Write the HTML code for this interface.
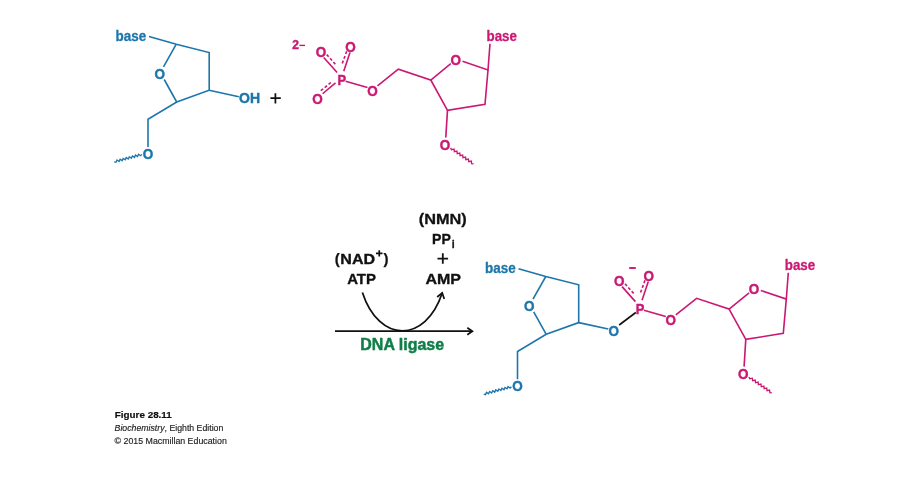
<!DOCTYPE html>
<html><head><meta charset="utf-8"><style>
html,body{margin:0;padding:0;background:#fff;}
svg{display:block;will-change:transform;font-family:"Liberation Sans",sans-serif;}
</style></head><body>
<svg width="916" height="480" viewBox="0 0 916 480">
<rect width="916" height="480" fill="#fff"/>
<g stroke="#1d76aa" stroke-width="1.6" fill="none" stroke-linejoin="miter">
<path d="M149,36.5 L176.3,44.2 L209.2,52.5 L209.2,90.3 L176.7,102 L148,119.2 L148,147"/>
<path d="M176.3,44.2 L163.5,66.8"/>
<path d="M164.2,79.5 L176.7,102"/>
<path d="M209.2,90.3 L238.8,96.7"/>
<path d="M114.20,161.80 L115.98,162.31 L117.03,160.06 L119.06,161.48 L120.11,159.24 L122.14,160.66 L123.19,158.42 L125.22,159.84 L126.27,157.59 L128.30,159.02 L129.34,156.77 L131.37,158.20 L132.42,155.95 L134.45,157.37 L135.50,155.13 L137.53,156.55 L138.58,154.30 L140.61,155.73 L141.90,154.40" stroke-width="1.35"/>
</g>
<text x="115.6" y="40.6" font-size="14" fill="#1d76aa" text-anchor="start" font-weight="bold" font-style="normal" textLength="30.6" lengthAdjust="spacingAndGlyphs" stroke="#1d76aa" stroke-width="0.3" stroke-linejoin="round">base</text>
<g transform="translate(159.7,73.7) scale(0.9,1)"><text x="0" y="5.47" font-size="15" fill="#1d76aa" text-anchor="middle" font-weight="bold" font-style="normal" stroke="#1d76aa" stroke-width="0.45" stroke-linejoin="round">O</text></g>
<g transform="translate(148,153.7) scale(0.9,1)"><text x="0" y="5.47" font-size="15" fill="#1d76aa" text-anchor="middle" font-weight="bold" font-style="normal" stroke="#1d76aa" stroke-width="0.45" stroke-linejoin="round">O</text></g>
<text x="239.0" y="103.3" font-size="14" fill="#1d76aa" text-anchor="start" font-weight="bold" font-style="normal" textLength="21" lengthAdjust="spacingAndGlyphs" stroke="#1d76aa" stroke-width="0.45" stroke-linejoin="round">OH</text>
<g stroke="#ca1873" stroke-width="1.6" fill="none">
<path d="M323.75,57.5 L337.1,72.5"/>
<path d="M326.7,54.6 L336.7,65.8" stroke-dasharray="3,2" stroke-width="1.6"/>
<path d="M350,52.5 L343.75,71.25"/>
<path d="M346.7,51.25 L341.7,65" stroke-dasharray="3,2" stroke-width="1.6"/>
<path d="M335.5,82.9 L322.6,93.75"/>
<path d="M330.9,82.5 L320.1,91.25" stroke-dasharray="3,2" stroke-width="1.6"/>
<path d="M345.6,81.25 L367.5,87.5"/>
<path d="M377.5,85.8 L398.3,69.2 L430.8,80 L450.8,63.7"/>
<path d="M462.5,61.3 L488,70 L490,43.7"/>
<path d="M488,70 L485,104.2 L447.5,110.3 L430.8,80"/>
<path d="M447.5,110.3 L445.8,137.5"/>
<path d="M450.60,147.90 L451.50,149.68 L454.02,149.11 L454.37,151.66 L456.89,151.09 L457.25,153.65 L459.77,153.08 L460.12,155.64 L462.64,155.07 L463.00,157.63 L465.52,157.06 L465.87,159.61 L468.39,159.04 L468.75,161.60 L471.27,161.03 L471.62,163.59 L473.60,163.80" stroke-width="1.35"/>
</g>
<g transform="translate(321,51.7) scale(0.9,1)"><text x="0" y="5.47" font-size="15" fill="#ca1873" text-anchor="middle" font-weight="bold" font-style="normal" stroke="#ca1873" stroke-width="0.45" stroke-linejoin="round">O</text></g>
<g transform="translate(350.5,46.3) scale(0.9,1)"><text x="0" y="5.47" font-size="15" fill="#ca1873" text-anchor="middle" font-weight="bold" font-style="normal" stroke="#ca1873" stroke-width="0.45" stroke-linejoin="round">O</text></g>
<g transform="translate(372.5,90.8) scale(0.9,1)"><text x="0" y="5.47" font-size="15" fill="#ca1873" text-anchor="middle" font-weight="bold" font-style="normal" stroke="#ca1873" stroke-width="0.45" stroke-linejoin="round">O</text></g>
<g transform="translate(455.8,59.5) scale(0.9,1)"><text x="0" y="5.47" font-size="15" fill="#ca1873" text-anchor="middle" font-weight="bold" font-style="normal" stroke="#ca1873" stroke-width="0.45" stroke-linejoin="round">O</text></g>
<g transform="translate(445,144.7) scale(0.9,1)"><text x="0" y="5.47" font-size="15" fill="#ca1873" text-anchor="middle" font-weight="bold" font-style="normal" stroke="#ca1873" stroke-width="0.45" stroke-linejoin="round">O</text></g>
<g transform="translate(341.7,84.9) scale(0.92,1)"><text x="0" y="0" font-size="14" fill="#ca1873" text-anchor="middle" font-weight="bold" font-style="normal" stroke="#ca1873" stroke-width="0.45" stroke-linejoin="round">P</text></g>
<text x="486.5" y="40.8" font-size="14" fill="#ca1873" text-anchor="start" font-weight="bold" font-style="normal" textLength="30.4" lengthAdjust="spacingAndGlyphs" stroke="#ca1873" stroke-width="0.3" stroke-linejoin="round">base</text>
<g transform="translate(317.4,98.5) scale(0.9,1)"><text x="0" y="5.47" font-size="15" fill="#ca1873" text-anchor="middle" font-weight="bold" font-style="normal" stroke="#ca1873" stroke-width="0.45" stroke-linejoin="round">O</text></g>
<text x="292.2" y="48.6" font-size="12" fill="#ca1873" text-anchor="start" font-weight="bold" font-style="normal" stroke="#ca1873" stroke-width="0.45" stroke-linejoin="round">2</text>
<path d="M299.4,45.4 H305" stroke="#ca1873" stroke-width="1.4"/>
<path d="M270.4,98.2 H280.8 M275.4,93.3 V103.6" stroke="#111111" stroke-width="1.75"/>
<g transform="translate(369.5,232.3)"><g stroke="#1d76aa" stroke-width="1.6" fill="none" stroke-linejoin="miter">
<path d="M149,36.5 L176.3,44.2 L209.2,52.5 L209.2,90.3 L176.7,102 L148,119.2 L148,147"/>
<path d="M176.3,44.2 L163.5,66.8"/>
<path d="M164.2,79.5 L176.7,102"/>
<path d="M209.2,90.3 L238.8,96.7"/>
<path d="M114.20,161.80 L115.98,162.31 L117.03,160.06 L119.06,161.48 L120.11,159.24 L122.14,160.66 L123.19,158.42 L125.22,159.84 L126.27,157.59 L128.30,159.02 L129.34,156.77 L131.37,158.20 L132.42,155.95 L134.45,157.37 L135.50,155.13 L137.53,156.55 L138.58,154.30 L140.61,155.73 L141.90,154.40" stroke-width="1.35"/>
</g>
<text x="115.6" y="40.6" font-size="14" fill="#1d76aa" text-anchor="start" font-weight="bold" font-style="normal" textLength="30.6" lengthAdjust="spacingAndGlyphs" stroke="#1d76aa" stroke-width="0.3" stroke-linejoin="round">base</text>
<g transform="translate(159.7,73.7) scale(0.9,1)"><text x="0" y="5.47" font-size="15" fill="#1d76aa" text-anchor="middle" font-weight="bold" font-style="normal" stroke="#1d76aa" stroke-width="0.45" stroke-linejoin="round">O</text></g>
<g transform="translate(148,153.7) scale(0.9,1)"><text x="0" y="5.47" font-size="15" fill="#1d76aa" text-anchor="middle" font-weight="bold" font-style="normal" stroke="#1d76aa" stroke-width="0.45" stroke-linejoin="round">O</text></g>
<g transform="translate(244.2,98.5) scale(0.9,1)"><text x="0" y="5.47" font-size="15" fill="#1d76aa" text-anchor="middle" font-weight="bold" font-style="normal" stroke="#1d76aa" stroke-width="0.45" stroke-linejoin="round">O</text></g></g>
<g transform="translate(298.3,229.1)"><g stroke="#ca1873" stroke-width="1.6" fill="none">
<path d="M323.75,57.5 L337.1,72.5"/>
<path d="M326.7,54.6 L336.7,65.8" stroke-dasharray="3,2" stroke-width="1.6"/>
<path d="M350,52.5 L343.75,71.25"/>
<path d="M346.7,51.25 L341.7,65" stroke-dasharray="3,2" stroke-width="1.6"/>
<path d="M345.6,81.25 L367.5,87.5"/>
<path d="M377.5,85.8 L398.3,69.2 L430.8,80 L450.8,63.7"/>
<path d="M462.5,61.3 L488,70 L490,43.7"/>
<path d="M488,70 L485,104.2 L447.5,110.3 L430.8,80"/>
<path d="M447.5,110.3 L445.8,137.5"/>
<path d="M450.60,147.90 L451.50,149.68 L454.02,149.11 L454.37,151.66 L456.89,151.09 L457.25,153.65 L459.77,153.08 L460.12,155.64 L462.64,155.07 L463.00,157.63 L465.52,157.06 L465.87,159.61 L468.39,159.04 L468.75,161.60 L471.27,161.03 L471.62,163.59 L473.60,163.80" stroke-width="1.35"/>
</g>
<g transform="translate(321,51.7) scale(0.9,1)"><text x="0" y="5.47" font-size="15" fill="#ca1873" text-anchor="middle" font-weight="bold" font-style="normal" stroke="#ca1873" stroke-width="0.45" stroke-linejoin="round">O</text></g>
<g transform="translate(350.5,46.3) scale(0.9,1)"><text x="0" y="5.47" font-size="15" fill="#ca1873" text-anchor="middle" font-weight="bold" font-style="normal" stroke="#ca1873" stroke-width="0.45" stroke-linejoin="round">O</text></g>
<g transform="translate(372.5,90.8) scale(0.9,1)"><text x="0" y="5.47" font-size="15" fill="#ca1873" text-anchor="middle" font-weight="bold" font-style="normal" stroke="#ca1873" stroke-width="0.45" stroke-linejoin="round">O</text></g>
<g transform="translate(455.8,59.5) scale(0.9,1)"><text x="0" y="5.47" font-size="15" fill="#ca1873" text-anchor="middle" font-weight="bold" font-style="normal" stroke="#ca1873" stroke-width="0.45" stroke-linejoin="round">O</text></g>
<g transform="translate(445,144.7) scale(0.9,1)"><text x="0" y="5.47" font-size="15" fill="#ca1873" text-anchor="middle" font-weight="bold" font-style="normal" stroke="#ca1873" stroke-width="0.45" stroke-linejoin="round">O</text></g>
<g transform="translate(341.7,84.9) scale(0.92,1)"><text x="0" y="0" font-size="14" fill="#ca1873" text-anchor="middle" font-weight="bold" font-style="normal" stroke="#ca1873" stroke-width="0.45" stroke-linejoin="round">P</text></g>
<text x="486.5" y="40.8" font-size="14" fill="#ca1873" text-anchor="start" font-weight="bold" font-style="normal" textLength="30.4" lengthAdjust="spacingAndGlyphs" stroke="#ca1873" stroke-width="0.3" stroke-linejoin="round">base</text></g>
<path d="M619.2,325 L635.8,312.5" stroke="#111111" stroke-width="1.6"/>
<path d="M629.2,268 H635.8" stroke="#ca1873" stroke-width="1.9"/>
<g stroke="#111111" stroke-width="1.75" fill="none">
<path d="M335,331.2 H471.5"/>
<path d="M467.3,327.7 L472.4,331.2 L467.3,334.7"/>
<path d="M362.4,292.4 C379,343.4 425.5,343.6 442.3,292.8"/>
<path d="M437.2,297 L442.2,292.9 L444.3,299"/>
</g>
<text x="334.8" y="263.8" font-size="15" fill="#111111" text-anchor="start" font-weight="bold" font-style="normal" stroke="#111111" stroke-width="0.25" stroke-linejoin="round">(</text>
<text x="340.3" y="263.8" font-size="15.3" fill="#111111" text-anchor="start" font-weight="bold" font-style="normal" textLength="34.8" lengthAdjust="spacingAndGlyphs" stroke="#111111" stroke-width="0.35" stroke-linejoin="round">NAD</text>
<path d="M376,253.4 H382.5 M379.25,250.2 V256.6" stroke="#111111" stroke-width="1.7"/>
<text x="383.6" y="263.8" font-size="15" fill="#111111" text-anchor="start" font-weight="bold" font-style="normal" stroke="#111111" stroke-width="0.25" stroke-linejoin="round">)</text>
<text x="347.2" y="284.0" font-size="15.5" fill="#111111" text-anchor="start" font-weight="bold" font-style="normal" textLength="28.8" lengthAdjust="spacingAndGlyphs" stroke="#111111" stroke-width="0.35" stroke-linejoin="round">ATP</text>
<text x="418.8" y="223.7" font-size="15.3" fill="#111111" text-anchor="start" font-weight="bold" font-style="normal" textLength="48" lengthAdjust="spacingAndGlyphs" stroke="#111111" stroke-width="0.3" stroke-linejoin="round">(NMN)</text>
<text x="432.0" y="244.4" font-size="15.3" fill="#111111" text-anchor="start" font-weight="bold" font-style="normal" textLength="18.8" lengthAdjust="spacingAndGlyphs" stroke="#111111" stroke-width="0.35" stroke-linejoin="round">PP</text>
<text x="451.7" y="247.9" font-size="10.5" fill="#111111" text-anchor="start" font-weight="bold" font-style="normal" stroke="#111111" stroke-width="0.3" stroke-linejoin="round">i</text>
<path d="M437.5,258.6 H448.1 M442.8,253.3 V263.8" stroke="#111111" stroke-width="1.8"/>
<text x="425.4" y="284.0" font-size="15.5" fill="#111111" text-anchor="start" font-weight="bold" font-style="normal" textLength="35.6" lengthAdjust="spacingAndGlyphs" stroke="#111111" stroke-width="0.35" stroke-linejoin="round">AMP</text>
<text x="360.3" y="349.8" font-size="15.6" fill="#0f7f47" text-anchor="start" font-weight="bold" font-style="normal" textLength="83.8" lengthAdjust="spacingAndGlyphs" stroke="#0f7f47" stroke-width="0.45" stroke-linejoin="round">DNA ligase</text>
<text x="114.8" y="418.2" font-size="9.2" fill="#111111" text-anchor="start" font-weight="bold" font-style="normal" textLength="57" lengthAdjust="spacingAndGlyphs" stroke="#111111" stroke-width="0.2" stroke-linejoin="round">Figure 28.11</text>
<text x="114.6" y="431.2" font-size="8.6" fill="#222" text-anchor="start" font-weight="normal" font-style="italic" textLength="108.7" lengthAdjust="spacingAndGlyphs" stroke="#222" stroke-width="0.15" stroke-linejoin="round">Biochemistry<tspan font-style='normal'>, Eighth Edition</tspan></text>
<text x="114.6" y="444.0" font-size="8.6" fill="#222" text-anchor="start" font-weight="normal" font-style="normal" textLength="112.2" lengthAdjust="spacingAndGlyphs" stroke="#222" stroke-width="0.15" stroke-linejoin="round">© 2015 Macmillan Education</text>
</svg>
</body></html>
